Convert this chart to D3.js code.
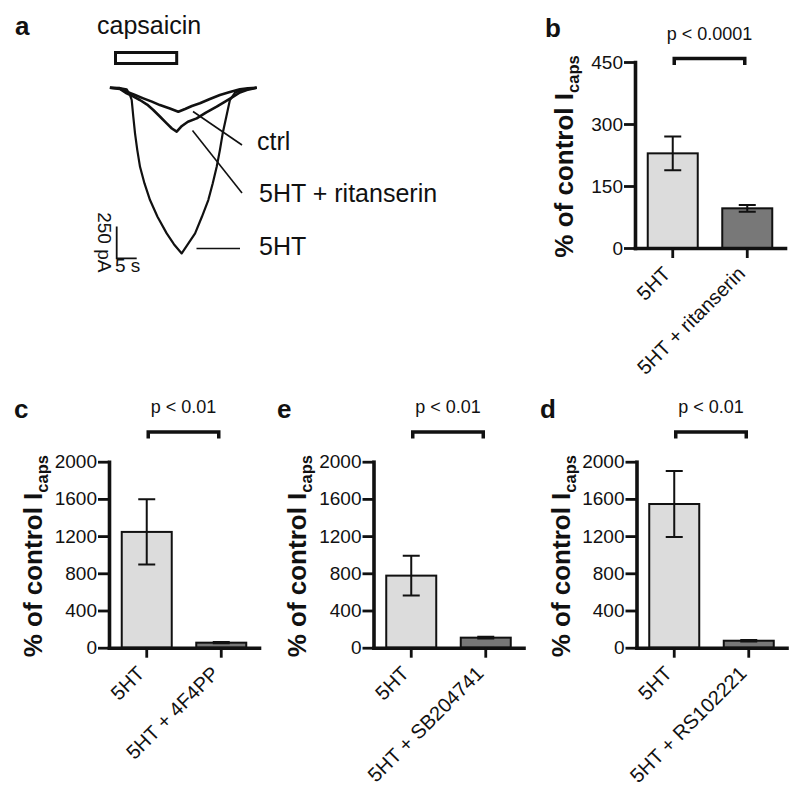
<!DOCTYPE html>
<html><head><meta charset="utf-8">
<script src="https://cdn.jsdelivr.net/npm/d3@7"></script>
<style>
body{margin:0;background:#fff}
svg{display:block}
text{font-family:"Liberation Sans",Arial,Helvetica,sans-serif;fill:#111}
</style>
</head><body>
<svg id="fig" width="800" height="801"></svg>
<script>
// ---------- DATA ----------
// Panel a: current traces, [time (s) from capsaicin onset, current (pA)]
const ctrlTrace = [[-1.4,0],[1.1,-6],[2.8,-32],[4.9,-58],[6.95,-84],[9.1,-110],[11.1,-137],[13.6,-164],[15.7,-190],
  [17.4,-168],[19.1,-144],[21.1,-123],[23.6,-89],[26.1,-58],[28.6,-34],[31.1,-13],[33.1,-5],[35.3,0]];
const ritanserinTrace = [[-1.4,0],[1.1,-10],[2.8,-44],[4.4,-69],[6.1,-97],[7.9,-133],[9.45,-176],[11.1,-227],[12.8,-281],
  [14.1,-322],[15.3,-347],[16.6,-302],[18.1,-268],[20.3,-242],[22.6,-196],[25.3,-150],[27.4,-109],[29.45,-71],
  [31.1,-38],[32.8,-18],[35.3,0]];
const serotoninTrace = [[-1.4,0],[1.1,-2],[2.8,-13],[3.63,-58],[4.05,-97],[4.45,-229],[4.88,-360],[5.45,-492],[6.13,-624],
  [7.25,-755],[8.63,-886],[10.5,-1018],[12.8,-1149],[14.6,-1234],[16.55,-1307],[18.1,-1234],[19.9,-1149],[21.6,-1018],
  [23.2,-886],[24.3,-755],[25.3,-624],[26.1,-492],[26.8,-360],[27.7,-229],[28.6,-97],[29.9,-39],[31.95,-13],[35.3,0]];
const capsaicinWindow = [0, 15.3];   // s
const scaleBarCurrent = 250;          // pA
const scaleBarTime = 5;               // s
const traceLabels = ["ctrl", "5HT + ritanserin", "5HT"];

// Panel b
const catB = ["5HT", "5HT + ritanserin"];
const meanB = [229, 96];
const semB = [41, 8];
const ticksB = [0, 150, 300, 450];
const pB = "p < 0.0001";

// Panel c
const catC = ["5HT", "5HT + 4F4PP"];
const meanC = [1245, 54];
const semC = [350, 7];
// Panel e
const catE = ["5HT", "5HT + SB204741"];
const meanE = [775, 108];
const semE = [215, 10];
// Panel d
const catD = ["5HT", "5HT + RS102221"];
const meanD = [1545, 75];
const semD = [355, 8];
const ticksCED = [0, 400, 800, 1200, 1600, 2000];
const pCED = "p < 0.01";

const yLabelMain = "% of control I";
const yLabelSub = "caps";
const barFills = ["#dcdcdc", "#787878"];

// ---------- DRAW ----------
const svg = d3.select("#fig");

function panelLetter(t, x, y) {
  svg.append("text").attr("x", x).attr("y", y).attr("font-size", 26)
    .attr("font-weight", "bold").text(t);
}

// ---- Panel a ----
panelLetter("a", 15, 35);
const tx = d3.scaleLinear().domain([0, 5]).range([115.5, 135.5]);
const ty = d3.scaleLinear().domain([0, -250]).range([87.7, 119.4]);
const line = d3.line().x(d => tx(d[0])).y(d => ty(d[1]));
const gA = svg.append("g");
[[ctrlTrace, 2.6], [ritanserinTrace, 2.6], [serotoninTrace, 2.2]].forEach(([tr, w]) => {
  gA.append("path").datum(tr).attr("d", line).attr("fill", "none")
    .attr("stroke", "#111").attr("stroke-width", w).attr("stroke-linejoin", "round");
});
gA.append("rect").attr("x", tx(capsaicinWindow[0])).attr("y", 52.5)
  .attr("width", tx(capsaicinWindow[1]) - tx(capsaicinWindow[0])).attr("height", 11)
  .attr("fill", "none").attr("stroke", "#111").attr("stroke-width", 3);
gA.append("text").attr("x", 97).attr("y", 34).attr("font-size", 25).text("capsaicin");
// pointer lines & labels
gA.append("line").attr("x1", 193).attr("y1", 111.5).attr("x2", 242).attr("y2", 145)
  .attr("stroke", "#111").attr("stroke-width", 1.6);
gA.append("line").attr("x1", 192.5).attr("y1", 130.5).attr("x2", 242).attr("y2", 193)
  .attr("stroke", "#111").attr("stroke-width", 1.6);
gA.append("line").attr("x1", 196.5).attr("y1", 248.5).attr("x2", 240).attr("y2", 248.5)
  .attr("stroke", "#111").attr("stroke-width", 1.6);
gA.append("text").attr("x", 257).attr("y", 150).attr("font-size", 25).text(traceLabels[0]);
gA.append("text").attr("x", 259).attr("y", 201.5).attr("font-size", 25).text(traceLabels[1]);
gA.append("text").attr("x", 259).attr("y", 255).attr("font-size", 25).text(traceLabels[2]);
// scale bar
const sbX = tx(0) + 1.2, sbY = 258.3;
const sbLen = ty(-scaleBarCurrent) - ty(0);
const sbW = tx(scaleBarTime) - tx(0);
gA.append("path").attr("d", `M${sbX},${sbY - sbLen}V${sbY}H${sbX + sbW}`)
  .attr("fill", "none").attr("stroke", "#111").attr("stroke-width", 1.8);
gA.append("text").attr("transform", `translate(97.5,${sbY - 16}) rotate(90)`)
  .attr("text-anchor", "middle").attr("font-size", 19).text(scaleBarCurrent + " pA");
gA.append("text").attr("x", 115).attr("y", 272).attr("font-size", 19).text(scaleBarTime + " s");

// ---- Bar panels ----
function barPanel(cfg) {
  const g = svg.append("g");
  const x = d3.scaleBand().domain(cfg.cats).range([cfg.ax, cfg.ax + 150])
    .paddingInner(0.329).paddingOuter(0.171);
  const y = d3.scaleLinear().domain([0, d3.max(cfg.ticks)]).range([cfg.y0, cfg.y1]);
  // bars
  g.selectAll("rect.bar").data(cfg.cats).join("rect")
    .attr("x", d => x(d)).attr("width", x.bandwidth())
    .attr("y", (d, i) => y(cfg.mean[i])).attr("height", (d, i) => y(0) - y(cfg.mean[i]))
    .attr("fill", (d, i) => barFills[i]).attr("stroke", "#111").attr("stroke-width", 2);
  // error bars
  cfg.cats.forEach((c, i) => {
    const cx = x(c) + x.bandwidth() / 2;
    const hi = y(cfg.mean[i] + cfg.sem[i]), lo = y(cfg.mean[i] - cfg.sem[i]);
    g.append("path").attr("d", `M${cx},${hi}V${lo}M${cx - 8.5},${hi}H${cx + 8.5}M${cx - 8.5},${lo}H${cx + 8.5}`)
      .attr("fill", "none").attr("stroke", "#111").attr("stroke-width", 2);
  });
  // y axis
  const ya = g.append("g").attr("transform", `translate(${cfg.ax},0)`)
    .call(d3.axisLeft(y).tickValues(cfg.ticks).tickFormat(d3.format("d"))
      .tickSize(11).tickSizeOuter(0).tickPadding(1));
  ya.select(".domain").attr("stroke", "#111").attr("stroke-width", 3.6).attr("stroke-linecap", "square");
  ya.selectAll(".tick line").attr("stroke", "#111").attr("stroke-width", 2.8);
  ya.selectAll(".tick text").attr("font-size", 19).attr("font-family", null).attr("fill", "#111");
  // x axis
  const xa = g.append("g").attr("transform", `translate(0,${cfg.y0})`)
    .call(d3.axisBottom(x).tickSize(10).tickSizeOuter(0));
  xa.select(".domain").attr("stroke", "#111").attr("stroke-width", 3.6).attr("stroke-linecap", "square");
  xa.selectAll(".tick line").attr("stroke", "#111").attr("stroke-width", 2.8);
  xa.selectAll(".tick text").remove();
  cfg.cats.forEach(c => {
    const cx = x(c) + x.bandwidth() / 2;
    g.append("text").attr("transform", `translate(${cx - 1},${cfg.y0 + 27}) rotate(-45)`)
      .attr("text-anchor", "end").attr("font-size", 20).text(c);
  });
  // y label
  const yl = g.append("text").attr("transform", `translate(${cfg.ax - cfg.lab},${(cfg.y0 + cfg.y1) / 2 + 1.5}) rotate(-90)`)
    .attr("text-anchor", "middle").attr("font-size", 26).attr("font-weight", "bold");
  yl.append("tspan").text(yLabelMain);
  yl.append("tspan").attr("font-size", 16.5).attr("dy", 6).text(yLabelSub);
  // significance bracket
  const b1 = x(cfg.cats[0]) + x.bandwidth() / 2 + 1.5, b2 = x(cfg.cats[1]) + x.bandwidth() / 2 - 2.5;
  g.append("path").attr("d", `M${b1},${cfg.by + 6.5}V${cfg.by}H${b2}V${cfg.by + 6.5}`)
    .attr("fill", "none").attr("stroke", "#111").attr("stroke-width", 3.5);
  g.append("text").attr("x", (b1 + b2) / 2).attr("y", cfg.by - 19).attr("text-anchor", "middle")
    .attr("font-size", 18).text(cfg.p);
  panelLetter(cfg.letter, cfg.lx, cfg.ly);
}

barPanel({cats: catB, mean: meanB, sem: semB, ticks: ticksB, ax: 635, y0: 248, y1: 62, lab: 62,
  by: 58.5, p: pB, letter: "b", lx: 545, ly: 37});
barPanel({cats: catC, mean: meanC, sem: semC, ticks: ticksCED, ax: 109, y0: 647.7, y1: 461.7, lab: 67,
  by: 432, p: pCED, letter: "c", lx: 14, ly: 418});
barPanel({cats: catE, mean: meanE, sem: semE, ticks: ticksCED, ax: 373.5, y0: 647.7, y1: 461.7, lab: 68,
  by: 432, p: pCED, letter: "e", lx: 277, ly: 418});
barPanel({cats: catD, mean: meanD, sem: semD, ticks: ticksCED, ax: 636.5, y0: 647.7, y1: 461.7, lab: 67,
  by: 432, p: pCED, letter: "d", lx: 540, ly: 418});
</script>
</body></html>
